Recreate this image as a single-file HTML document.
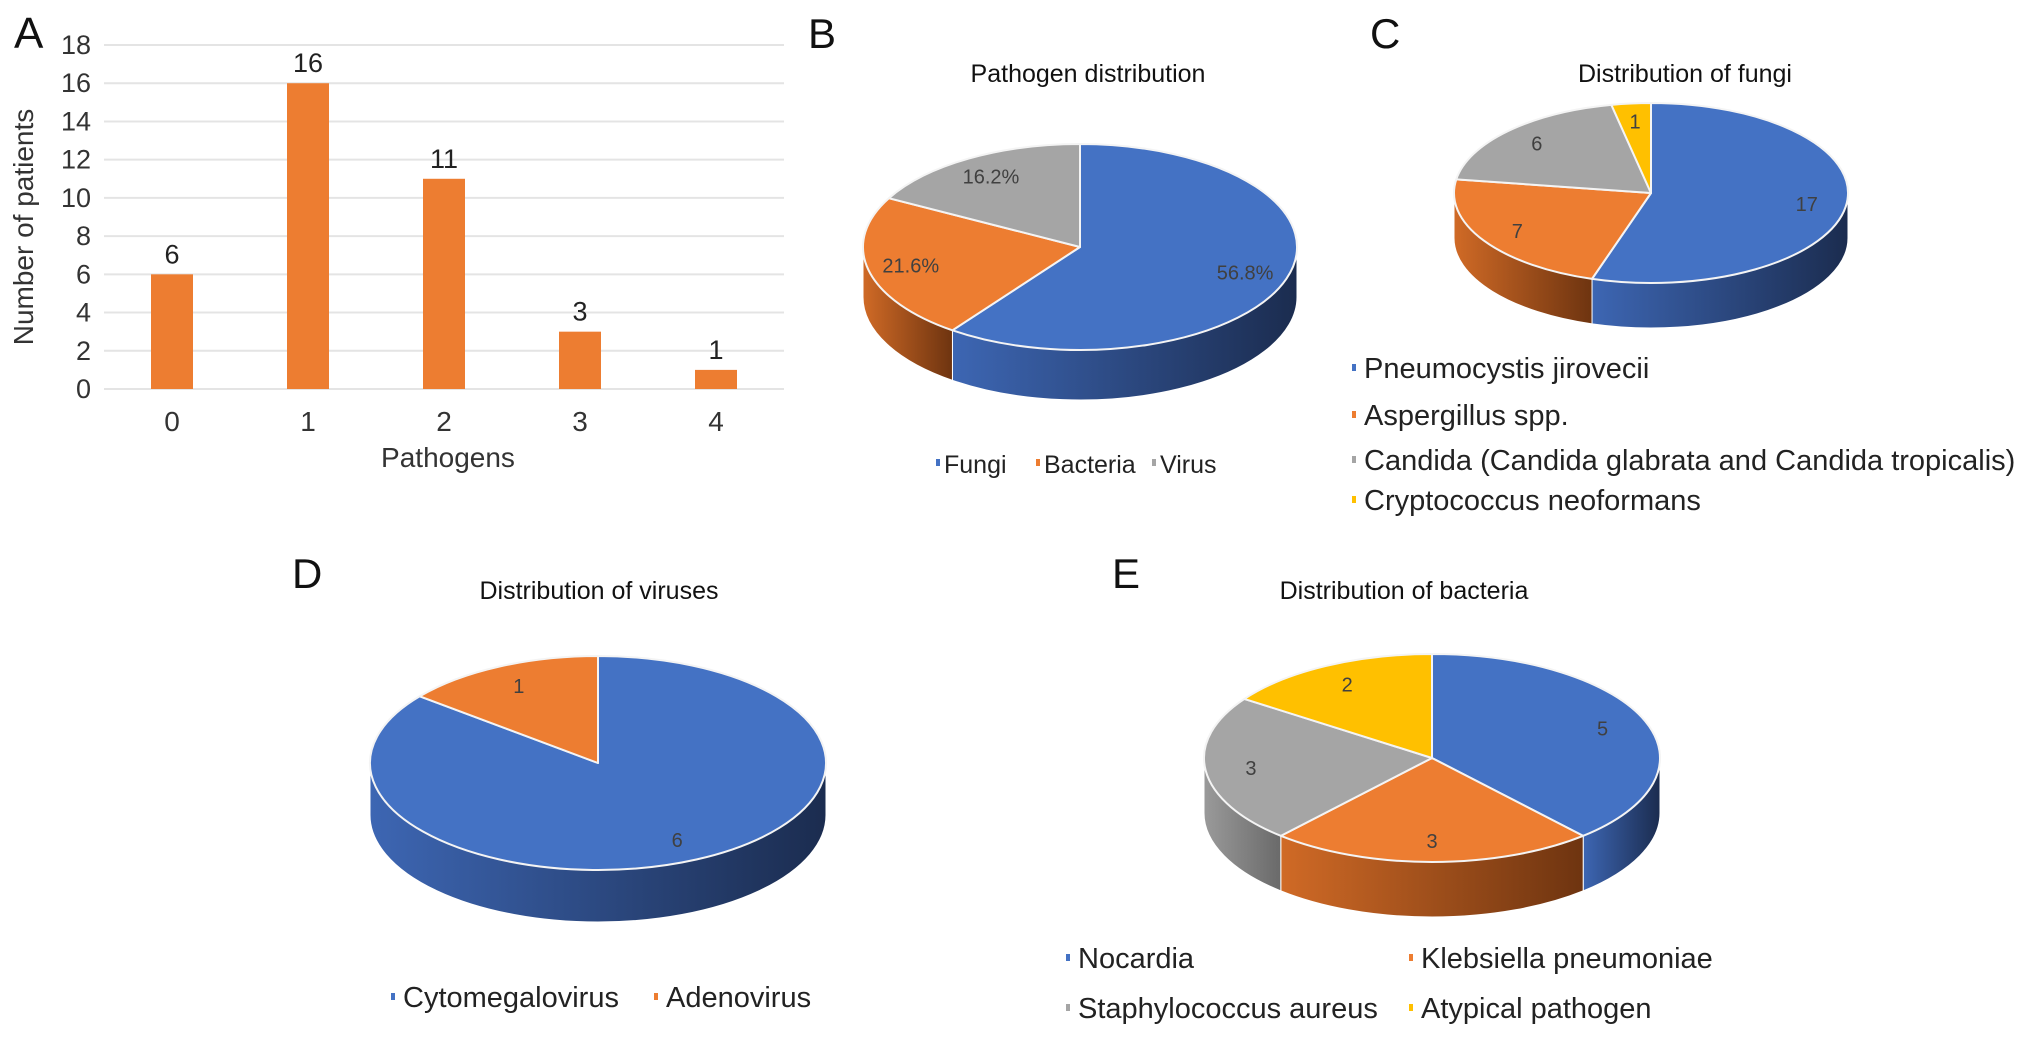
<!DOCTYPE html>
<html><head><meta charset="utf-8"><style>
html,body{margin:0;padding:0;background:#fff;}
svg{display:block;font-family:"Liberation Sans",Arial,sans-serif;}
</style></head><body>
<svg id="fig" width="2032" height="1040" viewBox="0 0 2032 1040" xmlns="http://www.w3.org/2000/svg">
<defs>
<linearGradient id="gBlue" x1="0" y1="0" x2="1" y2="0"><stop offset="0" stop-color="#3d66b3"/><stop offset="1" stop-color="#1b2c4f"/></linearGradient>
<linearGradient id="gOrange" x1="0" y1="0" x2="1" y2="0"><stop offset="0" stop-color="#d06a26"/><stop offset="1" stop-color="#6e3410"/></linearGradient>
<linearGradient id="gGray" x1="0" y1="0" x2="1" y2="0"><stop offset="0" stop-color="#9a9a9a"/><stop offset="1" stop-color="#6a6a6a"/></linearGradient>
<linearGradient id="gYellow" x1="0" y1="0" x2="1" y2="0"><stop offset="0" stop-color="#e0a800"/><stop offset="1" stop-color="#8a6a00"/></linearGradient>
</defs>
<g id="panelA"></g>
<g id="pies"></g>
</svg>
<script>
// ---- Panel A data ----
const barCategories = ["0","1","2","3","4"];
const barValues = [6,16,11,3,1];
const yTicks = [0,2,4,6,8,10,12,14,16,18];

// ---- Pie data ----
const pieBLabels = ["Fungi","Bacteria","Virus"];
const pieBValues = [21,8,6];
const pieBText = ["56.8%","21.6%","16.2%"];
const pieCLabels = ["Pneumocystis jirovecii","Aspergillus spp.","Candida (Candida glabrata and Candida tropicalis)","Cryptococcus neoformans"];
const pieCValues = [17,7,6,1];
const pieDLabels = ["Cytomegalovirus","Adenovirus"];
const pieDValues = [6,1];
const pieELabels = ["Nocardia","Klebsiella pneumoniae","Staphylococcus aureus","Atypical pathogen"];
const pieEValues = [5,3,3,2];

const NS="http://www.w3.org/2000/svg";
function mk(tag,attrs,parent,text){const e=document.createElementNS(NS,tag);for(const k in attrs)e.setAttribute(k,attrs[k]);if(text!==undefined)e.textContent=text;parent.appendChild(e);return e;}

// ---- Bar chart ----
const A=document.getElementById('panelA');
const px0=104, px1=784, py0=389, py1=45, ymax=18;
const yS=v=>py0-(v/ymax)*(py0-py1);
const band=(px1-px0)/barCategories.length;
const xS=i=>px0+band*(i+0.5);
let t=mk('text',{x:14,y:48,'font-size':44,fill:'#111'},A,'A');


yTicks.forEach(v=>{
  const l=mk('line',{x1:px0,x2:px1,y1:yS(v),y2:yS(v),stroke:'#e4e4e4','stroke-width':2},A);
  
  
  const tt=mk('text',{x:91,y:yS(v)+9,'font-size':27,'text-anchor':'end',fill:'#333'},A,String(v));
  
  
});
barValues.forEach((v,i)=>{
  const bw=42;
  const r=mk('rect',{x:xS(i)-bw/2,y:yS(v),width:bw,height:yS(0)-yS(v),fill:'#ed7d31'},A);
  
  
  const vl=mk('text',{x:xS(i),y:yS(v)-11,'font-size':27,'text-anchor':'middle',fill:'#222'},A,String(v));
  
  
  const xl=mk('text',{x:xS(i),y:431,'font-size':28,'text-anchor':'middle',fill:'#333'},A,barCategories[i]);
  
  
});
t=mk('text',{x:448,y:467,'font-size':28,'text-anchor':'middle',fill:'#333'},A,'Pathogens');


t=mk('text',{x:0,y:0,'font-size':28,'text-anchor':'middle',fill:'#333',transform:'translate(33,227) rotate(-90)'},A,'Number of patients');



// ---- Pies ----
const P=document.getElementById('pies');
const colors=['#4472c4','#ed7d31','#a5a5a5','#ffc000'];
const grads=['url(#gBlue)','url(#gOrange)','url(#gGray)','url(#gYellow)'];
const rad=d=>d*Math.PI/180;
function pt(c,a,dy){return [c.cx+c.rx*Math.sin(rad(a)), c.cy-c.ry*Math.cos(rad(a))+(dy||0)];}
function drawPie(name,c,values,labels,texts){
  const g=mk('g',{},P);
  
  
  const total=values.reduce((a,b)=>a+b,0);
  let a=0; const segs=[];
  values.forEach((v,i)=>{const a2=a+v/total*360;segs.push([a,a2]);a=a2;});
  segs.forEach(([a1,a2],i)=>{
    const s=Math.max(a1,90), e=Math.min(a2,270);
    if(e<=s) return;
    const p1=pt(c,s),p2=pt(c,e),p3=pt(c,e,c.d),p4=pt(c,s,c.d);
    const d=`M${p1[0]},${p1[1]} A${c.rx},${c.ry} 0 0 1 ${p2[0]},${p2[1]} L${p3[0]},${p3[1]} A${c.rx},${c.ry} 0 0 0 ${p4[0]},${p4[1]} Z`;
    const w=mk('path',{d:d,fill:grads[i],stroke:'#fff','stroke-width':1},g);
    
    
  });
  segs.forEach(([a1,a2],i)=>{
    const p1=pt(c,a1),p2=pt(c,a2);
    const large=(a2-a1)>180?1:0;
    const d=`M${c.cx},${c.cy} L${p1[0]},${p1[1]} A${c.rx},${c.ry} 0 ${large} 1 ${p2[0]},${p2[1]} Z`;
    const s=mk('path',{d:d,fill:colors[i],stroke:'#f4f4f4','stroke-width':2,'stroke-linejoin':'round'},g);
    
    
  });
  segs.forEach(([a1,a2],i)=>{
    const m=(a1+a2)/2;
    const x=c.cx+0.8*c.rx*Math.sin(rad(m)), y=c.cy-0.8*c.ry*Math.cos(rad(m));
    const lt=mk('text',{x:x,y:y+7,'font-size':20,'text-anchor':'middle',fill:'#404040'},g,texts?texts[i]:String(values[i]));
    
    
  });
}
function label(x,y,s,size,name,anchor){const e=mk('text',{x:x,y:y,'font-size':size,fill:'#111','text-anchor':anchor||'start'},P,s);return e;}
function legendItem(x,y,col,s,name,fs){
  const g=mk('g',{},P);
  
  
  mk('rect',{x:x,y:y-4,width:4,height:7,fill:col},g);
  mk('text',{x:x+(fs?8:12),y:y+10,'font-size':fs||29,fill:'#222'},g,s);
}

// B
label(808,48,'B',42,'panel-label-b');
label(1088,82,'Pathogen distribution',25,'chart-title-b','middle');
drawPie('pie-b',{cx:1080,cy:247,rx:217,ry:103,d:50},pieBValues,pieBLabels,pieBText);
legendItem(936,463,colors[0],pieBLabels[0],'legend-fungi',25);
legendItem(1036,463,colors[1],pieBLabels[1],'legend-bacteria',25);
legendItem(1152,463,colors[2],pieBLabels[2],'legend-virus',25);

// C
label(1370,48,'C',42,'panel-label-c');
label(1685,82,'Distribution of fungi',25,'chart-title-c','middle');
drawPie('pie-c',{cx:1651,cy:193,rx:197,ry:90,d:45},pieCValues,pieCLabels);
[368,415,460,500].forEach((y,i)=>legendItem(1352,y,colors[i],pieCLabels[i],'legend-'+pieCLabels[i].toLowerCase().split(' ')[0]));

// D
label(292,588,'D',42,'panel-label-d');
label(599,599,'Distribution of viruses',25,'chart-title-d','middle');
drawPie('pie-d',{cx:598,cy:763,rx:228,ry:107,d:52},pieDValues,pieDLabels);
legendItem(391,997,colors[0],pieDLabels[0],'legend-cytomegalovirus');
legendItem(654,997,colors[1],pieDLabels[1],'legend-adenovirus');

// E
label(1112,588,'E',42,'panel-label-e');
label(1404,599,'Distribution of bacteria',25,'chart-title-e','middle');
drawPie('pie-e',{cx:1432,cy:758,rx:228,ry:104,d:55},pieEValues,pieELabels);
legendItem(1066,958,colors[0],pieELabels[0],'legend-nocardia');
legendItem(1409,958,colors[1],pieELabels[1],'legend-klebsiella');
legendItem(1066,1008,colors[2],pieELabels[2],'legend-staphylococcus');
legendItem(1409,1008,colors[3],pieELabels[3],'legend-atypical');
</script>
</body></html>
